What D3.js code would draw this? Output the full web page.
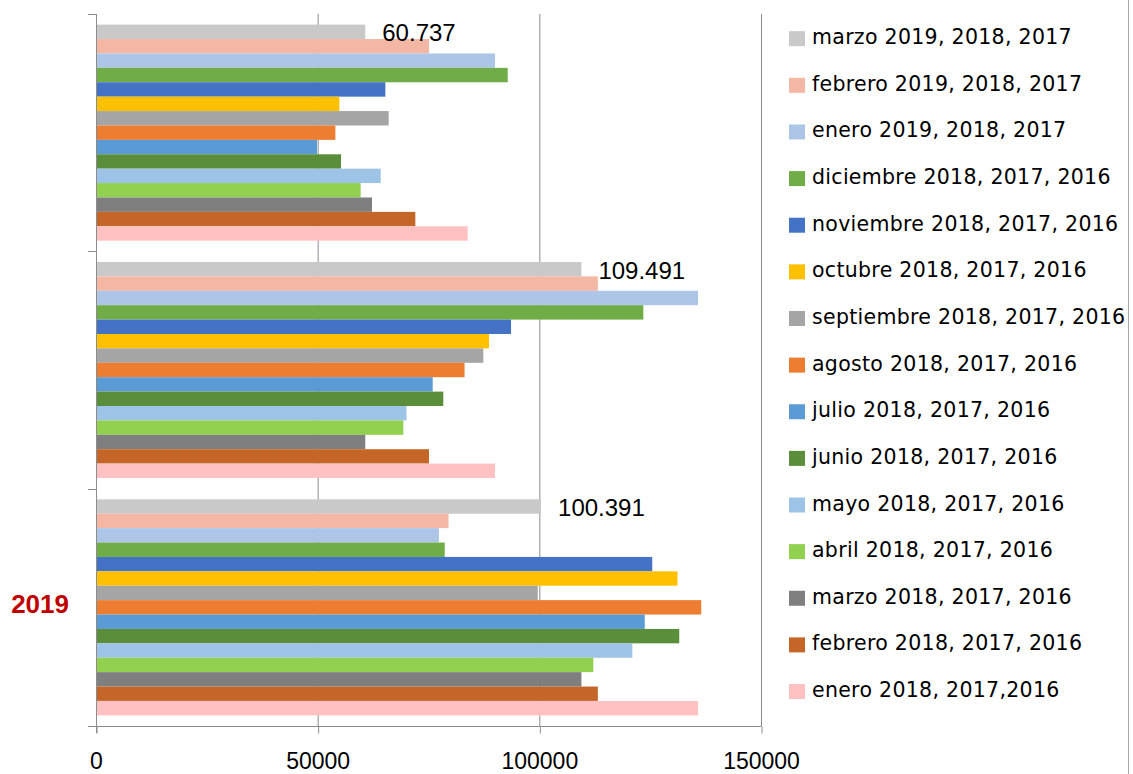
<!DOCTYPE html>
<html>
<head>
<meta charset="utf-8">
<script src="https://cdn.jsdelivr.net/npm/d3@7"></script>
<style>
  body { margin: 0; background: #fff; }
  svg { display: block; }
</style>
</head>
<body>
<div class="chart"></div>
<script>
'use strict';

// Categories, top to bottom (only the last one has a label)
const categories = ['', ' ', '2019'];

// Series, top to bottom as drawn in each group and in the legend
const seriesNames = [
  'marzo 2019, 2018, 2017',
  'febrero 2019, 2018, 2017',
  'enero 2019, 2018, 2017',
  'diciembre 2018, 2017, 2016',
  'noviembre 2018, 2017, 2016',
  'octubre 2018, 2017, 2016',
  'septiembre 2018, 2017, 2016',
  'agosto 2018, 2017, 2016',
  'julio 2018, 2017, 2016',
  'junio 2018, 2017, 2016',
  'mayo 2018, 2017, 2016',
  'abril 2018, 2017, 2016',
  'marzo 2018, 2017, 2016',
  'febrero 2018, 2017, 2016',
  'enero 2018, 2017,2016'
];

const seriesColors = [
  '#C9C9C9', '#F4B7A4', '#ADC6E7', '#70AD47', '#4472C4',
  '#FFC000', '#A5A5A5', '#ED7D31', '#5B9BD5', '#5A8E3A',
  '#9DC3E6', '#92D050', '#7F7F7F', '#C46628', '#FFC1C1'
];

// Values per series, one per category (top, middle, bottom)
const marzo2019 = [60737, 109491, 100391];
const febrero2019 = [75120, 113200, 79520];
const enero2019 = [90000, 135800, 77350];
const diciembre = [92870, 123460, 78660];
const noviembre = [65270, 93620, 125470];
const octubre = [54890, 88650, 131170];
const septiembre = [66020, 87370, 99640];
const agosto = [53990, 83130, 136520];
const julio = [49850, 75950, 123780];
const junio = [55270, 78340, 131560];
const mayo = [64220, 70040, 120980];
const abril = [59700, 69320, 112180];
const marzo2018 = [62260, 60737, 109491];
const febrero2018 = [72030, 75120, 113200];
const enero2018 = [83840, 90000, 135800];

const seriesValues = [
  marzo2019, febrero2019, enero2019, diciembre, noviembre, octubre,
  septiembre, agosto, julio, junio, mayo, abril, marzo2018, febrero2018, enero2018
];

// Only the first series carries data labels
const labelledSeries = [0];

const xTicks = [0, 50000, 100000, 150000];

// Initialize
const w = 1133;
const h = 774;
const plot = { left: 96, right: 761, top: 14, bottom: 726 };
const axisColor = '#8C8C8C';

const svg = d3.select('.chart')
              .append('svg')
              .attr('width', w)
              .attr('height', h);

// Scales
const xScale = d3.scaleLinear()
                 .domain([0, 150000])
                 .range([plot.left, plot.right]);

const y0 = d3.scaleBand()
             .domain(categories)
             .range([plot.top, plot.bottom]);

const y1 = d3.scaleBand()
             .domain(seriesNames)
             .range([0, y0.bandwidth()])
             .paddingOuter(0.74);

const esLocale = d3.formatLocale({ decimal: ',', thousands: '.', grouping: [3], currency: ['', ' €'] });
const formatLabel = esLocale.format(',d');

// Gridlines
svg.append('g')
  .selectAll('line')
  .data(xTicks.slice(1))
  .enter()
  .append('line')
  .attr('x1', d => xScale(d) + 0.5)
  .attr('x2', d => xScale(d) + 0.5)
  .attr('y1', plot.top)
  .attr('y2', plot.bottom)
  .attr('stroke', axisColor)
  .attr('stroke-width', 1);

// Bars
const groups = svg.selectAll('.cat')
  .data(categories)
  .enter()
  .append('g')
  .attr('class', 'cat')
  .attr('transform', c => `translate(0, ${y0(c)})`);

groups.selectAll('rect')
  .data((c, ci) => seriesNames.map((s, si) => ({ s, si, v: seriesValues[si][ci] })))
  .enter()
  .append('rect')
  .attr('x', xScale(0))
  .attr('y', d => y1(d.s))
  .attr('width', d => xScale(d.v) - xScale(0))
  .attr('height', y1.bandwidth())
  .attr('fill', d => seriesColors[d.si]);

// Data labels
groups.selectAll('text.lbl')
  .data((c, ci) => labelledSeries.map(si => ({ s: seriesNames[si], v: seriesValues[si][ci] })))
  .enter()
  .append('text')
  .attr('class', 'lbl')
  .attr('x', d => xScale(d.v) + 17)
  .attr('y', d => y1(d.s) + y1.bandwidth() / 2 + 9.5)
  .style('font-family', '"Liberation Sans", Arial, sans-serif')
  .style('font-size', '24px')
  .attr('fill', '#000')
  .text(d => formatLabel(d.v));

// X axis
const xAxis = d3.axisBottom(xScale)
                .tickValues(xTicks)
                .tickSize(7)
                .tickPadding(19)
                .tickFormat(d3.format('d'));

const gx = svg.append('g')
  .attr('transform', `translate(0, ${plot.bottom + 0.5})`)
  .call(xAxis);

gx.select('.domain')
  .attr('d', `M${plot.left - 8},0H${plot.right + 0.5}`)
  .attr('stroke', axisColor);
gx.selectAll('.tick line').attr('stroke', axisColor).attr('transform', 'translate(0.5,0)');
gx.selectAll('.tick text')
  .style('font-family', '"Liberation Sans", Arial, sans-serif')
  .style('font-size', '23px')
  .attr('fill', '#000');

// Y axis (ticks between categories)
const gy = svg.append('g');
gy.append('line')
  .attr('x1', plot.left + 0.5)
  .attr('x2', plot.left + 0.5)
  .attr('y1', plot.top)
  .attr('y2', plot.bottom + 7)
  .attr('stroke', axisColor);

const boundaries = categories.map(c => y0(c));
gy.selectAll('line.tick')
  .data(boundaries)
  .enter()
  .append('line')
  .attr('class', 'tick')
  .attr('x1', plot.left - 8)
  .attr('x2', plot.left)
  .attr('y1', d => Math.round(d) + 0.5)
  .attr('y2', d => Math.round(d) + 0.5)
  .attr('stroke', axisColor);

gy.selectAll('text')
  .data(categories)
  .enter()
  .append('text')
  .attr('x', 69)
  .attr('y', c => y0(c) + y0.bandwidth() / 2 + 6)
  .style('text-anchor', 'end')
  .style('font-family', '"Liberation Sans", Arial, sans-serif')
  .style('font-size', '26px')
  .style('font-weight', 'bold')
  .attr('fill', '#C00000')
  .text(c => c.trim());

// Legend
const legendTop = 38.7;
const legendStep = 46.63;

const legend = svg.selectAll('.legend')
  .data(seriesNames)
  .enter()
  .append('g')
  .attr('class', 'legend')
  .attr('transform', (d, i) => `translate(789, ${legendTop + i * legendStep})`);

legend.append('rect')
  .attr('x', 0)
  .attr('y', -7.5)
  .attr('width', 16)
  .attr('height', 15)
  .attr('fill', (d, i) => seriesColors[i]);

legend.append('text')
  .attr('x', 23)
  .attr('y', 5.5)
  .style('font-family', '"DejaVu Sans", Verdana, sans-serif')
  .style('font-size', '20.5px')
  .style('letter-spacing', '0.3px')
  .attr('fill', '#000')
  .text(d => d);

// Chart area border on the right
svg.append('line')
  .attr('x1', 1128.5)
  .attr('x2', 1128.5)
  .attr('y1', 0)
  .attr('y2', h)
  .attr('stroke', '#A6A6A6');
</script>
</body>
</html>
